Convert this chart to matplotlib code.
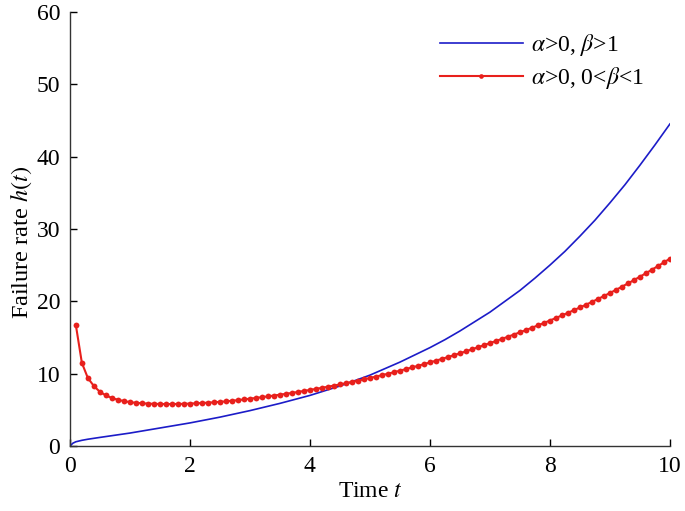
import numpy as np
import matplotlib
matplotlib.use("Agg")
import matplotlib.pyplot as plt

# Blue curve: alpha>0, beta>1
t_blue = [0.0, 0.05, 0.1, 0.2, 0.3, 0.5, 0.75, 1.0, 1.5, 2.0, 2.5, 3.0, 3.5, 4.0, 4.5, 5.0,
          5.25, 5.5, 5.75, 6.0, 6.25, 6.5, 6.75, 7.0, 7.25, 7.5, 7.75, 8.0, 8.25, 8.5, 8.75,
          9.0, 9.25, 9.5, 9.75, 10.0]
h_blue = [0.0, 0.4, 0.6, 0.8, 0.95, 1.2, 1.5, 1.8, 2.5, 3.2, 4.0, 4.9, 5.9, 7.0, 8.3, 9.8,
          10.7, 11.6, 12.6, 13.6, 14.7, 15.9, 17.2, 18.5, 20.0, 21.5, 23.2, 25.0, 26.9, 29.0, 31.2,
          33.6, 36.1, 38.8, 41.6, 44.5]

# Red curve: alpha>0, 0<beta<1 (t = 0.1 ... 10.0)
t_red = [round(0.1 * i, 1) for i in range(1, 101)]
h_red = [16.7, 11.5, 9.4, 8.3, 7.5, 7.0, 6.65, 6.4, 6.22, 6.08,
         5.98, 5.92, 5.87, 5.84, 5.82, 5.81, 5.81, 5.82, 5.84, 5.87,
         5.91, 5.95, 6.0, 6.05, 6.11, 6.18, 6.26, 6.35, 6.45, 6.55,
         6.65, 6.76, 6.87, 6.98, 7.1, 7.22, 7.35, 7.48, 7.62, 7.76,
         7.9, 8.05, 8.2, 8.36, 8.52, 8.69, 8.86, 9.04, 9.22, 9.41,
         9.6, 9.8, 10.0, 10.21, 10.42, 10.64, 10.86, 11.09, 11.32, 11.56,
         11.8, 12.05, 12.3, 12.56, 12.82, 13.09, 13.37, 13.65, 13.94, 14.23,
         14.52, 14.81, 15.11, 15.41, 15.72, 16.03, 16.35, 16.68, 17.01, 17.35,
         17.7, 18.05, 18.41, 18.78, 19.15, 19.53, 19.92, 20.32, 20.73, 21.15,
         21.58, 22.02, 22.47, 22.93, 23.4, 23.88, 24.37, 24.87, 25.38, 25.9]

x_ticks = [0, 2, 4, 6, 8, 10]
y_ticks = [0, 10, 20, 30, 40, 50, 60]

plt.rcParams['font.family'] = ['Liberation Serif', 'DejaVu Serif']
plt.rcParams['mathtext.fontset'] = 'stix'

fig = plt.figure(figsize=(6.85, 5.11), dpi=100)
ax = fig.add_axes([0.102, 0.127, 0.876, 0.850])

ax.plot(t_blue, h_blue, color='#1c1cc8', lw=1.2, label=r'$\alpha$>0, $\beta$>1')
ax.plot(t_red, h_red, color='#e8201c', lw=1.5, marker='o', markersize=4.2,
        markeredgewidth=0, label=r'$\alpha$>0, 0<$\beta$<1')

ax.set_xlim(0, 10)
ax.set_ylim(0, 60)
ax.set_xticks(x_ticks)
ax.set_yticks(y_ticks)
ax.tick_params(direction='in', length=5, width=1, labelsize=17, pad=7)
for s in ['top', 'right']:
    ax.spines[s].set_visible(False)
for s in ['left', 'bottom']:
    ax.spines[s].set_linewidth(1.0)
    ax.spines[s].set_color('#333333')

ax.set_xlabel(r'Time $t$', fontsize=17, labelpad=3)
ax.set_ylabel(r'Failure rate $h(t)$', fontsize=17.5)
ax.yaxis.set_label_coords(-0.06, 0.47)

ax.legend(loc='upper left', bbox_to_anchor=(0.601, 0.975), borderaxespad=0,
          frameon=False, fontsize=17, handlelength=3.5, handletextpad=0.35,
          labelspacing=0.3, numpoints=1, markerscale=0.8)

fig.savefig('out.png', dpi=100)
